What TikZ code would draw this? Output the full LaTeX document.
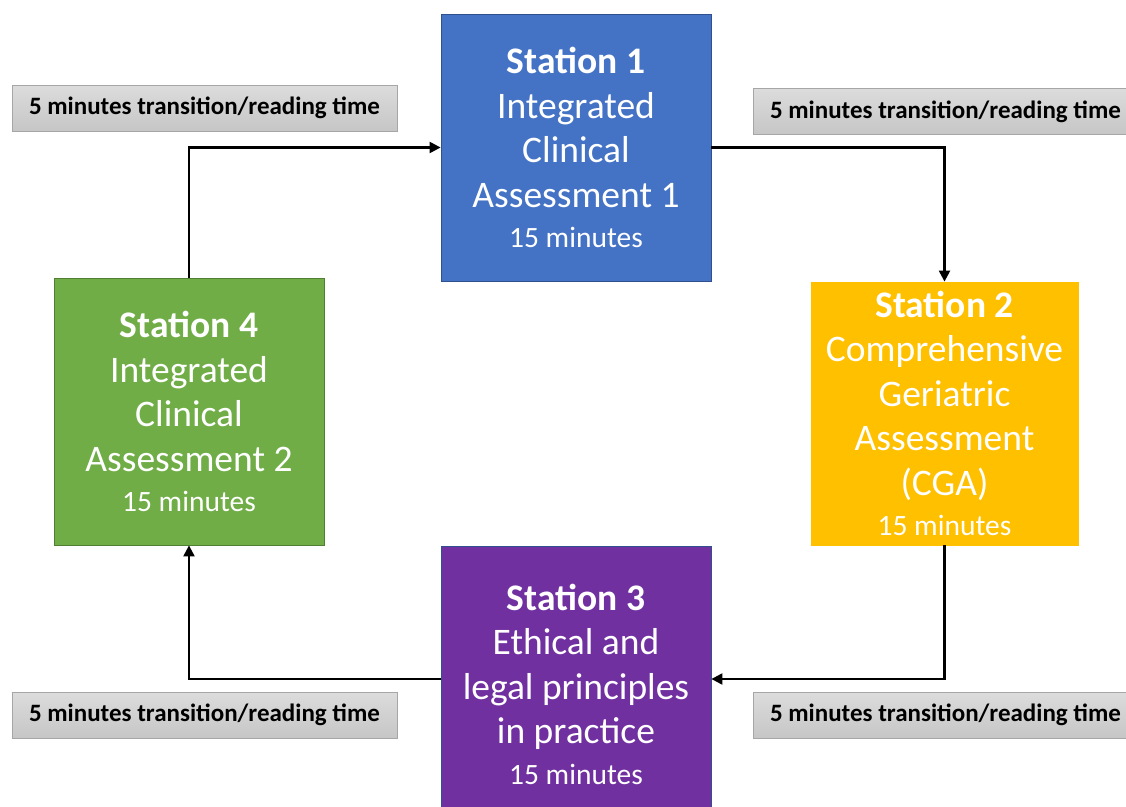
\documentclass[tikz,border=0pt]{standalone}
\usepackage{fontspec}
\setmainfont{Carlito}
\usetikzlibrary{arrows.meta}
\definecolor{sblue}{HTML}{4472C4}
\definecolor{sblueb}{HTML}{2F528F}
\definecolor{syellow}{HTML}{FFC000}
\definecolor{spurple}{HTML}{7030A0}
\definecolor{sgreen}{HTML}{70AD47}
\definecolor{sgreenb}{HTML}{507E32}
\definecolor{gtop}{HTML}{DCDCDC}
\definecolor{gbot}{HTML}{C6C6C6}
\definecolor{gborder}{HTML}{A6A6A6}
\begin{document}
\begin{tikzpicture}[x=1pt,y=-1pt,
  station/.style={line width=0.8pt, text=white, align=center, inner sep=0pt,
    font=\fontsize{37.5}{44.5}\selectfont},
  translabel/.style={draw=gborder, line width=0.6pt, top color=gtop, bottom color=gbot,
    minimum width=385pt, minimum height=46pt, inner sep=0pt,
    font=\fontsize{25}{30}\selectfont\bfseries},
  flow/.style={line width=2.2pt, -{Triangle[length=11pt,width=11pt]}}
]
\useasboundingbox (0,0) rectangle (1126,806);
\clip (0,0) rectangle (1126,806);
\fill[white] (0,0) rectangle (1126,806);

\node[station, fill=sblue, draw=sblueb, minimum width=270pt, minimum height=267pt] (s1) at (576,147.5)
  {\textbf{Station 1}\\Integrated\\Clinical\\Assessment 1\\[-4pt]{\fontsize{29.5}{40}\selectfont 15 minutes}};
\node[station, fill=syellow, draw=syellow, minimum width=267pt, minimum height=263pt] (s2) at (944.5,413.5)
  {\textbf{Station 2}\\Comprehensive\\Geriatric\\Assessment\\(CGA)\\[-4pt]{\fontsize{29.5}{40}\selectfont 15 minutes}};
\node[station, fill=spurple, draw=sblueb, minimum width=270pt, minimum height=276pt] (s3) at (576,684)
  {\textbf{Station 3}\\Ethical and\\legal principles\\in practice\\[-4pt]{\fontsize{29.5}{40}\selectfont 15 minutes}};
\node[station, fill=sgreen, draw=sgreenb, minimum width=270pt, minimum height=267pt] (s4) at (189,411.5)
  {\textbf{Station 4}\\Integrated\\Clinical\\Assessment 2\\[-4pt]{\fontsize{29.5}{40}\selectfont 15 minutes}};

\node[translabel] (t1) at (204.5,108) {5 minutes transition/reading time};
\node[translabel] (t2) at (945.5,111.5) {5 minutes transition/reading time};
\node[translabel] (t3) at (945.5,715) {5 minutes transition/reading time};
\node[translabel] (t4) at (204.5,715) {5 minutes transition/reading time};

\draw[flow] (s4.north) |- (s1.west);
\draw[flow] (s1.east) -| (s2.north);
\draw[flow] (s2.south) |- ([yshift=5pt]s3.east);
\draw[flow] ([yshift=5pt]s3.west) -| (s4.south);
\end{tikzpicture}
\end{document}
